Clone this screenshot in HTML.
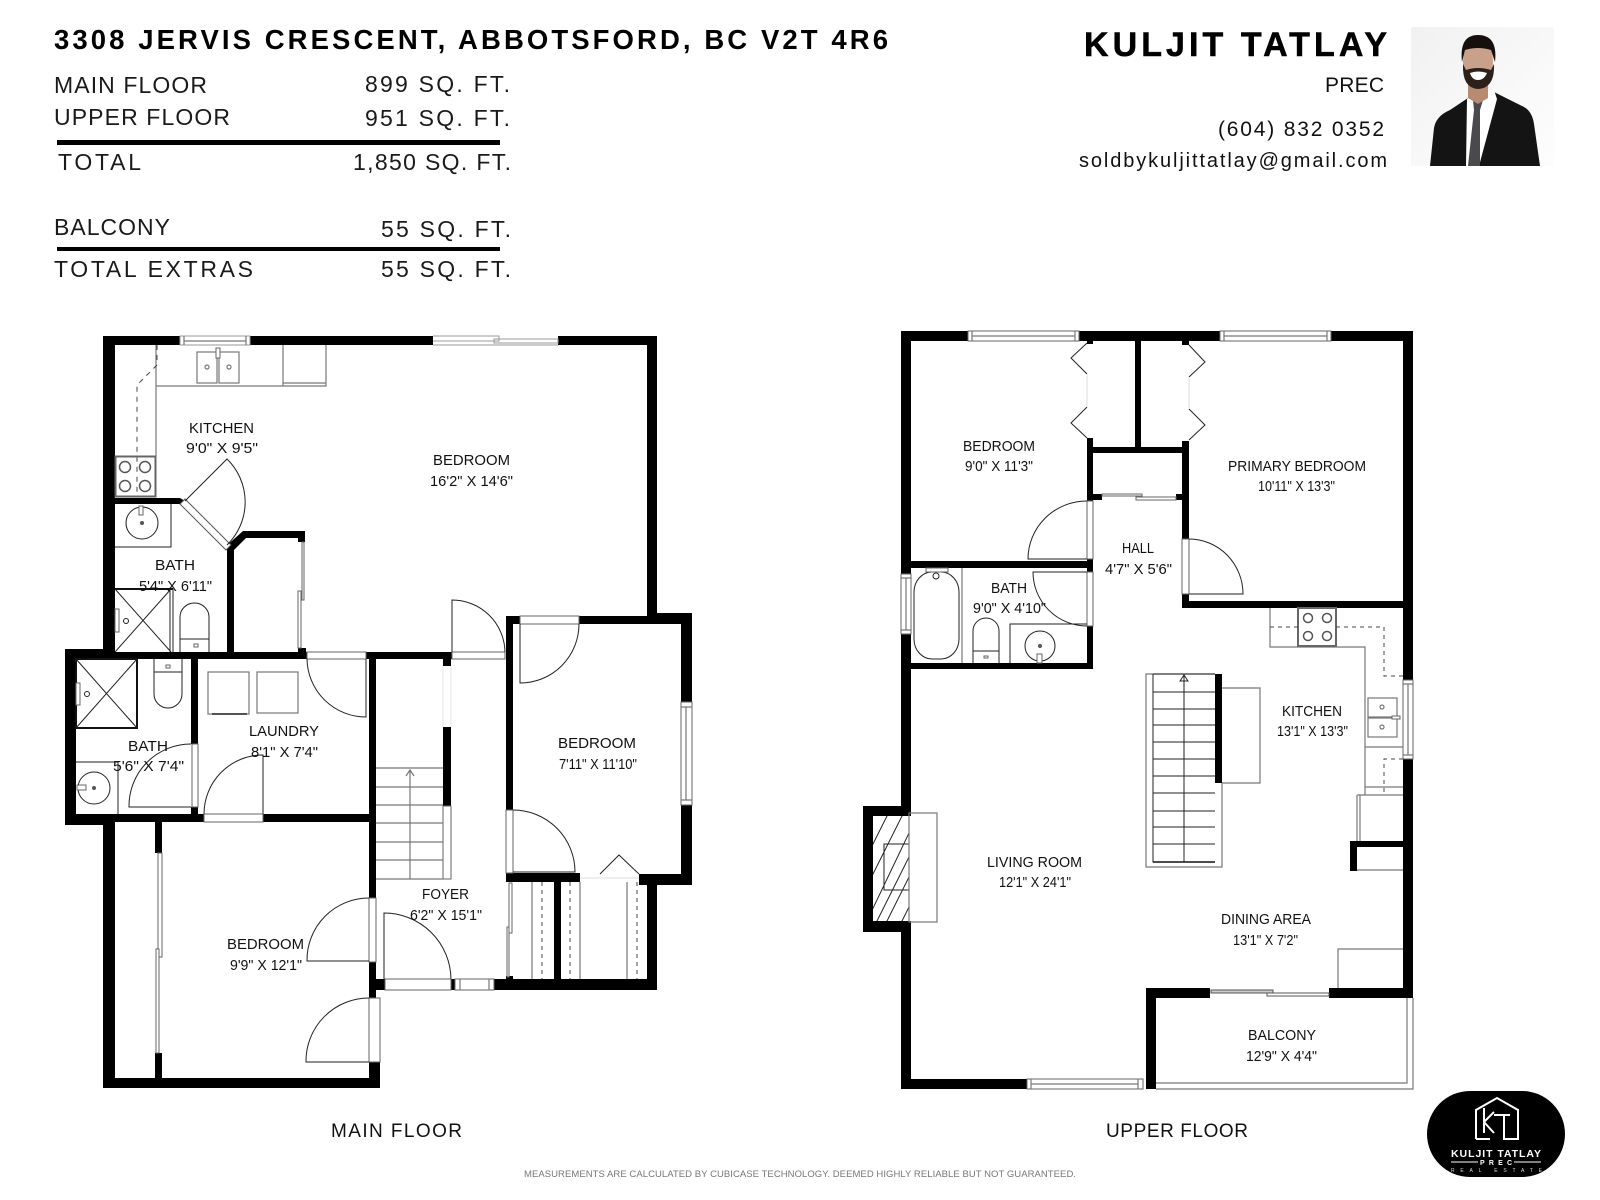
<!DOCTYPE html>
<html><head><meta charset="utf-8"><style>
html,body{margin:0;padding:0;background:#fff;width:1600px;height:1200px;overflow:hidden}
svg{display:block;position:absolute;left:0;top:0}
text{font-family:"Liberation Sans",sans-serif;fill:#111}
.r{font-size:15px}
.h{font-size:23px;fill:#1a1a1a}
.w{fill:#000;stroke:none}
.l{fill:none;stroke:#222;stroke-width:1}
.g{fill:none;stroke:#777;stroke-width:1.2}
.f{fill:#fff;stroke:#666;stroke-width:1}
.d{fill:none;stroke:#444;stroke-width:1;stroke-dasharray:4 4}
</style></head><body>
<svg width="1600" height="1200" viewBox="0 0 1600 1200" xmlns="http://www.w3.org/2000/svg">
<defs><linearGradient id="pg" x1="0" y1="0" x2="1" y2="1"><stop offset="0" stop-color="#f1f1f1"/><stop offset="0.6" stop-color="#f9f9f9"/><stop offset="1" stop-color="#fdfdfd"/></linearGradient></defs>
<rect width="1600" height="1200" fill="#fff"/>

<!-- HEADER -->
<text x="54" y="49" font-size="27.5" font-weight="bold" textLength="834" lengthAdjust="spacing" style="fill:#000">3308 JERVIS CRESCENT, ABBOTSFORD, BC V2T 4R6</text>
<text class="h" x="54" y="93" textLength="153">MAIN FLOOR</text>
<text class="h" x="54" y="125" textLength="176">UPPER FLOOR</text>
<text class="h" x="365" y="92" textLength="145">899 SQ. FT.</text>
<text class="h" x="365" y="126" textLength="145">951 SQ. FT.</text>
<rect x="57" y="140" width="443" height="5" fill="#000"/>
<text class="h" x="58" y="170" textLength="83">TOTAL</text>
<text class="h" x="353" y="170" textLength="158">1,850 SQ. FT.</text>
<text class="h" x="54" y="235" textLength="116">BALCONY</text>
<text class="h" x="381" y="237" textLength="130">55 SQ. FT.</text>
<rect x="57" y="247" width="443" height="4" fill="#000"/>
<text class="h" x="54" y="277" textLength="199">TOTAL EXTRAS</text>
<text class="h" x="381" y="277" textLength="130">55 SQ. FT.</text>

<text x="1084" y="56" font-size="34" font-weight="bold" textLength="303" style="fill:#000;stroke:#000;stroke-width:.5">KULJIT TATLAY</text>
<text x="1325" y="92" font-size="21" textLength="59">PREC</text>
<text x="1218" y="136" font-size="21" textLength="166">(604) 832 0352</text>
<text x="1079" y="167" font-size="20" textLength="308">soldbykuljittatlay@gmail.com</text>

<!-- PHOTO -->
<rect x="1411" y="27" width="143" height="139" fill="url(#pg)"/>
<path d="M1430 166 L1434 128 Q1436 116 1450 110 L1468 98 L1494 92 L1522 106 Q1532 110 1534 124 L1540 166Z" fill="#141414"/>
<path d="M1466 166 L1467 99 L1476 92 L1494 90 L1497 99 L1479 166Z" fill="#fff"/>
<path d="M1473 100 L1483 100 L1480 110 L1480 166 L1468 166 L1474 110Z" fill="#4a4a4e"/>
<path d="M1468 84 h20 v14 l-10 6 l-10 -6z" fill="#b88a72"/>
<ellipse cx="1478" cy="62" rx="15" ry="25" fill="#c9a089"/>
<path d="M1463 64 Q1462 88 1478 89 Q1495 88 1494 64 L1491 70 Q1478 66 1466 70Z" fill="#2b201a"/>
<path d="M1462 62 Q1459 35 1478 35 Q1498 35 1495 62 L1491 50 Q1478 46 1465 50Z" fill="#15100e"/>
<path d="M1470 73 Q1478 70 1487 73 Q1484 80 1478 80 Q1472 80 1470 73Z" fill="#fff"/>

<!-- MAIN FLOOR WALLS -->
<g class="w">
<rect x="103" y="336" width="12" height="316"/>
<rect x="103" y="336" width="77" height="9"/>
<rect x="250" y="336" width="183" height="9"/>
<rect x="558" y="336" width="99" height="9"/>
<rect x="647" y="336" width="10" height="288"/>
<rect x="579" y="616" width="78" height="8"/>
<rect x="657" y="613" width="35" height="11"/>
<rect x="506" y="616" width="14" height="8"/>
<rect x="506" y="616" width="7" height="194"/>
<rect x="681" y="613" width="11" height="89"/>
<rect x="681" y="805" width="11" height="80"/>
<rect x="639" y="874" width="53" height="11"/>
<rect x="647" y="874" width="10" height="116"/>
<rect x="494" y="979" width="163" height="11"/>
<rect x="506" y="873" width="74" height="9"/>
<rect x="554" y="882" width="7" height="97"/>
<rect x="506" y="976" width="7" height="4"/>
<rect x="65" y="649" width="50" height="10"/>
<rect x="65" y="652" width="242" height="7"/>
<rect x="366" y="652" width="86" height="7"/>
<rect x="65" y="649" width="11" height="176"/>
<rect x="65" y="814" width="39" height="11"/>
<rect x="76" y="814" width="128" height="8"/>
<rect x="263" y="814" width="113" height="8"/>
<rect x="103" y="814" width="12" height="274"/>
<rect x="103" y="1078" width="277" height="10"/>
<rect x="369" y="1062" width="11" height="26"/>
<rect x="369" y="652" width="7" height="246"/>
<rect x="369" y="962" width="7" height="36"/>
<rect x="369" y="979" width="16" height="11"/>
<rect x="451" y="979" width="4" height="11"/>
<rect x="443" y="659" width="8" height="7"/>
<rect x="443" y="727" width="8" height="79"/>
<rect x="191" y="659" width="7" height="85"/>
<rect x="191" y="807" width="7" height="8"/>
<rect x="155" y="822" width="7" height="31"/>
<rect x="155" y="1053" width="7" height="25"/>
<rect x="115" y="498" width="65" height="6"/>
<path d="M180 498 L185 501 L180 504Z"/>
<rect x="227" y="548" width="7" height="104"/>
<path d="M224 548 L243 531 L305 531 L305 538 L246 538 L231 553 Z"/>
<rect x="298" y="531" width="7" height="11"/>
<rect x="298" y="648" width="8" height="5"/>
</g>

<!-- MAIN windows/doors -->
<g>
<rect class="f" x="180" y="336" width="70" height="9" style="stroke:#999"/>
<path class="g" d="M184 336V345M246 336V345M184 341H246"/>
<path d="M433 336H499V341H433M494 339H558V343H494ZM433 345H558" fill="#fff" stroke="#999" stroke-width="1"/>
<rect class="f" x="681" y="702" width="11" height="103"/>
<path class="g" d="M681 707H692M681 800H692M686 707V800"/>
<rect class="f" x="307" y="652" width="59" height="7"/>
<rect class="f" x="452" y="652" width="53" height="7"/>
<rect class="f" x="204" y="814" width="59" height="8"/>
<rect class="f" x="520" y="616" width="59" height="8"/>
<rect class="f" x="192" y="744" width="6" height="63"/>
<rect class="f" x="369" y="898" width="7" height="64"/>
<rect class="f" x="369" y="998" width="11" height="64"/>
<rect class="f" x="506" y="810" width="7" height="63"/>
<rect class="f" x="385" y="979" width="66" height="11"/>
<rect class="f" x="455" y="979" width="39" height="11"/>
<path class="g" d="M460 979V990M489 979V990"/>
<rect class="f" x="443" y="806" width="8" height="73"/>
<path stroke="#e5e5e5" fill="none" d="M443 666V727M451 666V727"/>
<path d="M580 878H639" stroke="#ddd" fill="none"/>
<!-- diagonal door -->
<path d="M180 504 L226 550 L231 545 L185 499Z" fill="#fff" stroke="#555"/>
<!-- sliding -->
<rect class="f" x="302" y="542" width="2" height="58"/>
<rect class="f" x="298" y="591" width="3" height="57"/>
<rect class="f" x="158" y="853" width="4" height="104"/>
<rect class="f" x="156" y="949" width="3" height="104"/>
<rect class="f" x="509" y="883" width="3" height="50"/>
<rect class="f" x="507" y="927" width="2" height="50"/>
<!-- arcs -->
<path class="l" d="M185 501L227 459A60 60 0 0 1 227 545"/>
<path class="l" d="M520 624V683A59 59 0 0 0 579 624"/>
<path class="l" d="M452 652V600A53 53 0 0 1 505 652"/>
<path class="l" d="M366 659V717A59 59 0 0 1 307 659"/>
<path class="l" d="M191 807H129A62 62 0 0 1 191 744"/>
<path class="l" d="M263 814V755A59 59 0 0 0 204 814"/>
<path class="l" d="M369 961H307A62 62 0 0 1 369 898"/>
<path class="l" d="M369 1062H306A63 63 0 0 1 369 998"/>
<path class="l" d="M384 979V913A67 67 0 0 1 451 979"/>
<path class="l" d="M513 872H575A62 62 0 0 0 513 810"/>
<path class="l" d="M600 874L619 855L639 874"/>
<!-- kitchen -->
<path class="g" d="M156 345V456M156 386H326V345M283 345V386M283 383H326"/>
<path class="d" d="M157 345V365L137 385V497" style="stroke-dasharray:5 5"/>
<rect class="g" x="197" y="352" width="20" height="31"/>
<rect class="g" x="219" y="352" width="20" height="31"/>
<circle cx="207" cy="367" r="2" class="g"/><circle cx="229" cy="367" r="2" class="g"/>
<rect class="f" x="216" y="348" width="4" height="10"/>
<rect x="115.5" y="456.5" width="40" height="40" fill="none" stroke="#666" stroke-width="2"/>
<g class="l" style="stroke:#555;stroke-width:1.5"><circle cx="125" cy="467" r="5.5"/><circle cx="145" cy="467" r="5.5"/><circle cx="125" cy="486" r="5.5"/><circle cx="145" cy="486" r="5.5"/></g>
<!-- bath upper -->
<path class="l" d="M115 547H171V504"/>
<circle class="l" cx="142" cy="523" r="16"/><circle cx="142" cy="523" r="2" fill="#555"/>
<rect class="f" x="139" y="506" width="4" height="9"/>
<path d="M115 589H173" stroke="#111" stroke-width="2"/>
<path class="l" d="M170 589V652M173 589V652M115 589L171 652M171 589L115 652"/>
<rect class="f" x="115" y="609" width="4" height="23"/><circle class="l" cx="126" cy="621" r="2.5"/>
<path class="l" d="M180 652V617A14.5 14 0 0 1 209 617V652M180 639H209"/>
<rect class="f" x="194" y="644" width="4" height="3"/>
<!-- bath lower -->
<rect x="76" y="659" width="61" height="69" fill="none" stroke="#111" stroke-width="2"/>
<path class="l" d="M76 659L137 728M137 659L76 728"/>
<rect class="f" x="76" y="683" width="4" height="22"/><circle class="l" cx="87" cy="694" r="2.5"/>
<path class="l" d="M154 659V694A14 14 0 0 0 182 694V659M154 672H182"/>
<rect class="f" x="166" y="665" width="4" height="3"/>
<path class="l" d="M76 762H118V814"/>
<circle class="l" cx="94" cy="788" r="16"/><circle cx="94" cy="788" r="2" fill="#555"/>
<rect class="f" x="77" y="785" width="9" height="5"/>
<!-- laundry -->
<rect class="g" x="208" y="672" width="41" height="42"/>
<rect class="g" x="257" y="672" width="41" height="41"/>
<path d="M212 714H247" stroke="#222" stroke-width="1.5"/>
<!-- stairs main -->
<path class="g" d="M376 768H443M376 787H443M376 805H443M376 823H443M376 842H443M376 860H443M376 879H443"/>
<path class="g" d="M410 879V770M406 776L410 770L414 776"/>
<!-- closets -->
<path class="g" d="M532 882V979M580 882V979M627 882V979"/>
<path class="d" d="M542 882V979M570 882V979M637 882V979"/>
</g>

<!-- UPPER FLOOR WALLS -->
<g class="w">
<rect x="901" y="331" width="10" height="243"/>
<rect x="901" y="634" width="10" height="172"/>
<rect x="901" y="932" width="10" height="157"/>
<rect x="863" y="806" width="48" height="10"/>
<rect x="863" y="921" width="48" height="11"/>
<rect x="863" y="806" width="10" height="126"/>
<rect x="901" y="331" width="67" height="10"/>
<rect x="1079" y="331" width="141" height="10"/>
<rect x="1331" y="331" width="82" height="10"/>
<rect x="1403" y="331" width="10" height="349"/>
<rect x="1403" y="759" width="10" height="239"/>
<rect x="1329" y="988" width="84" height="10"/>
<rect x="1146" y="988" width="64" height="10"/>
<rect x="1146" y="988" width="10" height="101"/>
<rect x="901" y="1079" width="126" height="10"/>
<rect x="911" y="561" width="182" height="7"/>
<rect x="911" y="663" width="182" height="6"/>
<rect x="1087" y="341" width="6" height="3"/>
<rect x="1087" y="438" width="6" height="63"/>
<rect x="1087" y="559" width="6" height="13"/>
<rect x="1087" y="626" width="6" height="43"/>
<rect x="1135" y="341" width="6" height="106"/>
<rect x="1087" y="447" width="102" height="6"/>
<rect x="1182" y="341" width="7" height="4"/>
<rect x="1182" y="441" width="7" height="98"/>
<rect x="1182" y="594" width="7" height="14"/>
<rect x="1182" y="601" width="221" height="7"/>
<rect x="1087" y="494" width="15" height="6"/>
<rect x="1176" y="494" width="6" height="6"/>
<rect x="1350" y="841" width="53" height="6"/>
<rect x="1350" y="841" width="7" height="30"/>
<rect x="1215" y="674" width="7" height="109"/>
</g>

<g>
<!-- windows -->
<rect class="f" x="968" y="331" width="111" height="10"/><path class="g" d="M972 331V341M1075 331V341M972 336H1075"/>
<rect class="f" x="1220" y="331" width="111" height="10"/><path class="g" d="M1224 331V341M1327 331V341M1224 336H1327"/>
<rect class="f" x="901" y="574" width="10" height="60"/><path class="g" d="M901 578H911M901 630H911M906 578V630"/>
<rect class="f" x="1403" y="680" width="10" height="79"/><path class="g" d="M1403 684H1413M1403 755H1413M1408 684V755"/>
<rect class="f" x="1027" y="1079" width="116" height="10"/><path class="g" d="M1031 1079V1089M1138 1079V1089M1031 1084H1138"/>
<!-- sliding -->
<rect class="f" x="1102" y="494" width="40" height="2"/>
<rect class="f" x="1136" y="497" width="40" height="3"/>
<rect x="1211" y="990" width="62" height="3" fill="#ccc" stroke="#555"/>
<rect x="1267" y="993" width="62" height="3" fill="#fff" stroke="#555"/>
<!-- door rects -->
<rect class="f" x="1087" y="501" width="6" height="58"/>
<rect class="f" x="1087" y="572" width="6" height="54"/>
<rect class="f" x="1182" y="539" width="7" height="55"/>
<!-- arcs -->
<path class="l" d="M1087 559H1028A59 58 0 0 1 1087 501"/>
<path class="l" d="M1087 572H1033A54 54 0 0 0 1087 626"/>
<path class="l" d="M1189 539A54 55 0 0 1 1243 594H1189"/>
<!-- bifold -->
<path class="l" d="M1087 343L1071 358L1087 374M1087 407L1071 423L1087 438"/>
<path class="l" d="M1189 345L1205 362L1189 377M1189 409L1205 425L1189 440"/>
<path stroke="#ddd" fill="none" d="M1087 374V407M1189 377V409"/>
<!-- bath -->
<path class="g" d="M962 568V663"/>
<rect class="l" x="914" y="572" width="45" height="87" rx="18" ry="20"/>
<rect class="f" x="926" y="568" width="22" height="4"/><circle class="l" cx="936" cy="576" r="3"/>
<path class="l" d="M973 663V631A13 13 0 0 1 999 631V663M973 651H999"/>
<rect class="f" x="984" y="656" width="4" height="2"/>
<path class="l" d="M1087 624H1010V663"/>
<circle class="l" cx="1040" cy="646" r="15"/><circle cx="1040" cy="646" r="2" fill="#555"/>
<rect class="f" x="1037" y="654" width="5" height="9"/>
<!-- kitchen upper -->
<path class="g" d="M1270 608V647H1365V795"/>
<rect x="1298" y="608" width="38" height="38" fill="none" stroke="#666" stroke-width="2"/>
<g class="l" style="stroke:#555;stroke-width:1.5"><circle cx="1308" cy="618" r="4.5"/><circle cx="1327" cy="618" r="4.5"/><circle cx="1308" cy="636" r="4.5"/><circle cx="1327" cy="636" r="4.5"/></g>
<path class="d" d="M1270 627H1298M1336 627H1384V676H1403"/>
<rect class="g" x="1368" y="698" width="29" height="19"/>
<rect class="g" x="1368" y="718" width="29" height="19"/>
<circle cx="1382" cy="707" r="2" class="g"/><circle cx="1382" cy="727" r="2" class="g"/>
<rect class="f" x="1392" y="716" width="8" height="3"/>
<path class="g" d="M1365 747H1403M1365 787H1403M1357 795H1403M1357 795V841M1360 795V841M1357 870H1403"/>
<path class="d" d="M1403 759H1384V795"/>
<path class="g" d="M1338 988V949H1403"/>
<!-- stairs upper -->
<path class="g" d="M1222 783V867H1146V674H1215"/>
<path class="l" d="M1153 674V862H1215M1153 692H1215M1153 709H1215M1153 725H1215M1153 742H1215M1153 759H1215M1153 776H1215M1153 793H1215M1153 811H1215M1153 827H1215M1153 844H1215M1153 674H1215M1184 674V862"/>
<path d="M1153 862H1215" stroke="#111" stroke-width="1.5"/>
<path class="l" d="M1180 681L1184 675L1188 681Z"/>
<path class="g" d="M1222 688H1260V783H1222"/>
<!-- fireplace -->
<rect x="873" y="816" width="36" height="105" fill="#fff"/>
<g stroke="#222" fill="none"><clipPath id="c"><rect x="873" y="816" width="36" height="105"/></clipPath>
<path clip-path="url(#c)" d="M865 860L890 810M865 890L905 810M865 925L920 810M875 925L925 825M885 925L925 845M900 925L925 875"/></g>
<rect class="l" x="884" y="844" width="25" height="46"/>
<rect class="g" x="909" y="813" width="28" height="109"/>
<!-- balcony -->
<path class="g" d="M1156 1083H1407V998M1156 1089H1413V998"/>
</g>

<!-- ROOM LABELS -->
<g class="r">
<text x="189" y="433" textLength="65" lengthAdjust="spacingAndGlyphs">KITCHEN</text>
<text x="186" y="453" textLength="72" lengthAdjust="spacingAndGlyphs">9'0&quot; X 9'5&quot;</text>
<text x="433" y="465" textLength="77" lengthAdjust="spacingAndGlyphs">BEDROOM</text>
<text x="430" y="486" textLength="83" lengthAdjust="spacingAndGlyphs">16'2&quot; X 14'6&quot;</text>
<text x="155" y="570" textLength="40" lengthAdjust="spacingAndGlyphs">BATH</text>
<text x="139" y="591" textLength="73" lengthAdjust="spacingAndGlyphs">5'4&quot; X 6'11&quot;</text>
<text x="128" y="751" textLength="40" lengthAdjust="spacingAndGlyphs">BATH</text>
<text x="113" y="771" textLength="71" lengthAdjust="spacingAndGlyphs">5'6&quot; X 7'4&quot;</text>
<text x="249" y="736" textLength="70" lengthAdjust="spacingAndGlyphs">LAUNDRY</text>
<text x="251" y="757" textLength="67" lengthAdjust="spacingAndGlyphs">8'1&quot; X 7'4&quot;</text>
<text x="227" y="949" textLength="77" lengthAdjust="spacingAndGlyphs">BEDROOM</text>
<text x="230" y="970" textLength="72" lengthAdjust="spacingAndGlyphs">9'9&quot; X 12'1&quot;</text>
<text x="422" y="899" textLength="47" lengthAdjust="spacingAndGlyphs">FOYER</text>
<text x="410" y="920" textLength="72" lengthAdjust="spacingAndGlyphs">6'2&quot; X 15'1&quot;</text>
<text x="558" y="748" textLength="78" lengthAdjust="spacingAndGlyphs">BEDROOM</text>
<text x="559" y="769" textLength="78" lengthAdjust="spacingAndGlyphs">7'11&quot; X 11'10&quot;</text>
<text x="963" y="451" textLength="72" lengthAdjust="spacingAndGlyphs">BEDROOM</text>
<text x="965" y="471" textLength="68" lengthAdjust="spacingAndGlyphs">9'0&quot; X 11'3&quot;</text>
<text x="1122" y="553" textLength="32" lengthAdjust="spacingAndGlyphs">HALL</text>
<text x="1105" y="574" textLength="67" lengthAdjust="spacingAndGlyphs">4'7&quot; X 5'6&quot;</text>
<text x="991" y="593" textLength="36" lengthAdjust="spacingAndGlyphs">BATH</text>
<text x="973" y="613" textLength="73" lengthAdjust="spacingAndGlyphs">9'0&quot; X 4'10&quot;</text>
<text x="1228" y="471" textLength="138" lengthAdjust="spacingAndGlyphs">PRIMARY BEDROOM</text>
<text x="1258" y="491" textLength="77" lengthAdjust="spacingAndGlyphs">10'11&quot; X 13'3&quot;</text>
<text x="1282" y="716" textLength="60" lengthAdjust="spacingAndGlyphs">KITCHEN</text>
<text x="1277" y="736" textLength="71" lengthAdjust="spacingAndGlyphs">13'1&quot; X 13'3&quot;</text>
<text x="987" y="867" textLength="95" lengthAdjust="spacingAndGlyphs">LIVING ROOM</text>
<text x="999" y="887" textLength="72" lengthAdjust="spacingAndGlyphs">12'1&quot; X 24'1&quot;</text>
<text x="1221" y="924" textLength="90" lengthAdjust="spacingAndGlyphs">DINING AREA</text>
<text x="1233" y="945" textLength="65" lengthAdjust="spacingAndGlyphs">13'1&quot; X 7'2&quot;</text>
<text x="1248" y="1040" textLength="68" lengthAdjust="spacingAndGlyphs">BALCONY</text>
<text x="1246" y="1061" textLength="71" lengthAdjust="spacingAndGlyphs">12'9&quot; X 4'4&quot;</text>
</g>

<text x="331" y="1137" font-size="19" textLength="131">MAIN FLOOR</text>
<text x="1106" y="1137" font-size="19" textLength="142">UPPER FLOOR</text>
<text x="524" y="1177" font-size="9.5" textLength="552" style="fill:#777">MEASUREMENTS ARE CALCULATED BY CUBICASE TECHNOLOGY. DEEMED HIGHLY RELIABLE BUT NOT GUARANTEED.</text>

<!-- LOGO -->
<rect x="1427" y="1091" width="138" height="86" rx="43" ry="43" fill="#000"/>
<path d="M1476 1139V1110L1497 1098L1518 1110V1139H1504V1115M1476 1139H1490" fill="none" stroke="#fff" stroke-width="2"/>
<path d="M1484 1108V1133M1484 1122L1494 1112M1484 1122L1494 1133M1494 1115H1510" fill="none" stroke="#fff" stroke-width="2"/>
<text x="1451" y="1157" font-size="10.5" font-weight="bold" textLength="90" style="fill:#fff">KULJIT TATLAY</text>
<text x="1480" y="1165" font-size="7" font-weight="bold" textLength="32" style="fill:#fff">PREC</text>
<path d="M1451 1162H1478M1514 1162H1541" stroke="#fff"/>
<text x="1451" y="1172" font-size="5" textLength="91" style="fill:#ddd">REAL ESTATE</text>
</svg>
</body></html>
